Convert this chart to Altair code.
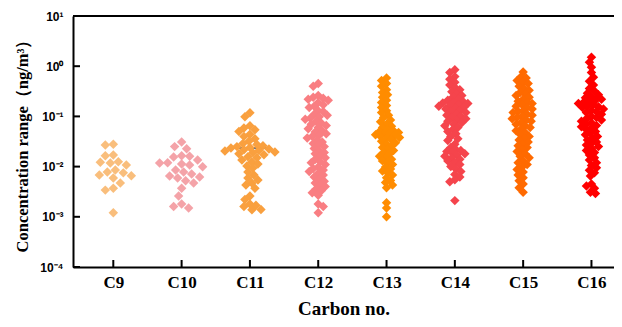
import numpy as np
import pandas as pd
import altair as alt

# ---------------- data ----------------
groups = ["C9", "C10", "C11", "C12", "C13", "C14", "C15", "C16"]
carbons = [9, 10, 11, 12, 13, 14, 15, 16]
colors = ["#F9BE7C", "#F4A3A8", "#F9A03F", "#F97E82",
          "#FF8C00", "#F5444C", "#FF6A00", "#FF0000"]

c9 = [0.027, 0.028, 0.017, 0.0165, 0.0118, 0.0122, 0.0125, 0.0108, 0.0086,
      0.0078, 0.0075, 0.0068, 0.0066, 0.0059, 0.0047, 0.0037, 0.0034, 0.0012]
c10 = [0.031, 0.025, 0.0226, 0.0164, 0.0156, 0.016, 0.0136, 0.0119, 0.0118,
       0.0113, 0.0108, 0.0099, 0.0086, 0.0078, 0.0071, 0.0065, 0.0062, 0.0059,
       0.0052, 0.0047, 0.0037, 0.0026, 0.0018, 0.0016, 0.0015]
c11 = [0.118, 0.098, 0.065, 0.059, 0.054, 0.050, 0.044, 0.040, 0.036, 0.032,
       0.029, 0.0275, 0.026, 0.025, 0.024, 0.0235, 0.0225, 0.0216, 0.021,
       0.0205, 0.0196, 0.0188, 0.018, 0.0172, 0.0157, 0.015, 0.0136, 0.0124,
       0.0113, 0.0103, 0.0094, 0.0078, 0.0068, 0.0059, 0.0054, 0.0047, 0.0043,
       0.0037, 0.0026, 0.0022, 0.0018, 0.0017, 0.0016, 0.0014, 0.00138]
c12 = [0.45, 0.40, 0.26, 0.24, 0.22, 0.21, 0.23, 0.19, 0.17, 0.16, 0.15, 0.13,
       0.125, 0.11, 0.105, 0.098, 0.092, 0.088, 0.08, 0.074, 0.07, 0.066, 0.06,
       0.057, 0.052, 0.049, 0.045, 0.042, 0.04, 0.037, 0.034, 0.031, 0.029,
       0.027, 0.025, 0.023, 0.021, 0.019, 0.018, 0.016, 0.015, 0.014, 0.0125,
       0.012, 0.011, 0.0098, 0.0092, 0.0086, 0.008, 0.0074, 0.0068, 0.0062,
       0.0056, 0.0051, 0.0047, 0.0043, 0.004, 0.0036, 0.0033, 0.003, 0.0027,
       0.0018, 0.0016, 0.0012]
c13 = [0.58, 0.52, 0.45, 0.40, 0.34, 0.30, 0.27, 0.24, 0.21, 0.19, 0.165, 0.15,
       0.13, 0.12, 0.105, 0.095, 0.085, 0.078, 0.07, 0.064, 0.06, 0.055, 0.052,
       0.05, 0.048, 0.046, 0.045, 0.043, 0.041, 0.04, 0.038, 0.036, 0.034,
       0.032, 0.03, 0.028, 0.026, 0.024, 0.022, 0.021, 0.019, 0.018, 0.016,
       0.015, 0.014, 0.013, 0.012, 0.011, 0.0098, 0.009, 0.0082, 0.0075,
       0.0068, 0.006, 0.0053, 0.0048, 0.0043, 0.0038, 0.0019, 0.0015, 0.001]
c14 = [0.85, 0.75, 0.62, 0.55, 0.48, 0.42, 0.38, 0.34, 0.31, 0.28, 0.26, 0.24,
       0.22, 0.21, 0.2, 0.19, 0.185, 0.18, 0.17, 0.165, 0.16, 0.15, 0.145,
       0.14, 0.13, 0.125, 0.12, 0.11, 0.105, 0.1, 0.095, 0.09, 0.085, 0.08,
       0.075, 0.07, 0.065, 0.06, 0.055, 0.05, 0.045, 0.04, 0.036, 0.033,
       0.028, 0.024, 0.022, 0.021, 0.02, 0.019, 0.018, 0.017, 0.016, 0.015,
       0.014, 0.013, 0.012, 0.011, 0.01, 0.009, 0.008, 0.007, 0.0062, 0.0055,
       0.005, 0.0021]
c15 = [0.77, 0.62, 0.58, 0.52, 0.48, 0.45, 0.4, 0.36, 0.33, 0.3, 0.28, 0.26,
       0.24, 0.22, 0.2, 0.19, 0.18, 0.17, 0.16, 0.15, 0.14, 0.13, 0.125, 0.12,
       0.11, 0.105, 0.1, 0.095, 0.09, 0.085, 0.08, 0.075, 0.07, 0.065, 0.06,
       0.056, 0.052, 0.048, 0.044, 0.04, 0.037, 0.034, 0.031, 0.028, 0.026,
       0.024, 0.022, 0.02, 0.018, 0.016, 0.015, 0.013, 0.012, 0.011, 0.0098,
       0.0088, 0.0078, 0.0068, 0.006, 0.0052, 0.0045, 0.0038, 0.0031]
c16 = [1.5, 1.2, 0.95, 0.75, 0.6, 0.5, 0.42, 0.36, 0.32, 0.29, 0.27, 0.25,
       0.235, 0.22, 0.21, 0.2, 0.19, 0.18, 0.17, 0.16, 0.155, 0.15, 0.14, 0.13,
       0.125, 0.12, 0.11, 0.1, 0.095, 0.09, 0.085, 0.08, 0.075, 0.07, 0.066,
       0.062, 0.058, 0.054, 0.05, 0.046, 0.043, 0.04, 0.037, 0.034, 0.031,
       0.029, 0.027, 0.025, 0.023, 0.021, 0.019, 0.017, 0.015, 0.0135, 0.012,
       0.0105, 0.0095, 0.0085, 0.0075, 0.0065, 0.0045, 0.0041, 0.0037, 0.0031,
       0.0029]
series = [c9, c10, c11, c12, c13, c14, c15, c16]

mean_group = ["C11"]
mean_carbon = [11]
mean_value = [0.0235]

y_ticks = [1e-4, 1e-3, 1e-2, 1e-1, 1e0, 1e1]
y_tick_labels = ["10⁻⁴", "10⁻³", "10⁻²", "10⁻¹", "10⁰", "10¹"]

# ---------------- layout ----------------
W, H = 541, 251
X0, X1 = 8.41, 16.33
px_per_unit = W / (X1 - X0)
px_per_decade = H / 5.0
# minimum spacing (px) between point centres in each column's swarm
swarm_spacing = [8.0, 8.0, 6.0, 5.0, 4.8, 5.0, 5.0, 5.0]


def swarm_offsets(vals, dmin=6.0, step=1.0):
    """Simple beeswarm layout (pixel space) for one column."""
    ys = -np.log10(np.asarray(vals, dtype=float)) * px_per_decade
    order = np.argsort(ys, kind="stable")
    placed = []
    offs = np.zeros(len(vals))
    for n, i in enumerate(order):
        y = ys[i]
        k = 0
        found = None
        while found is None:
            if k == 0:
                cands = [0.0]
            else:
                cands = [k * step, -k * step] if n % 2 == 0 else [-k * step, k * step]
            for c in cands:
                if all((c - px) ** 2 + (y - py) ** 2 >= dmin ** 2 for px, py in placed):
                    found = c
                    break
            k += 1
        offs[i] = found
        placed.append((found, y))
    return offs


rows = []
for g, c, vals, d in zip(groups, carbons, series, swarm_spacing):
    offs = swarm_offsets(vals, dmin=d)
    for v, o in zip(vals, offs):
        rows.append({"group": g, "xpos": c + o / px_per_unit, "value": v})
points_df = pd.DataFrame(rows)

mean_df = pd.DataFrame({"group": mean_group, "xpos": mean_carbon, "value": mean_value})
ytick_df = pd.DataFrame({"value": y_ticks})
xtick_df = pd.DataFrame({"xpos": carbons})

label_expr = " : ".join(
    f"datum.value < {t * 1.5} ? '{lab}'" for t, lab in zip(y_ticks[:-1], y_tick_labels[:-1])
) + f" : '{y_tick_labels[-1]}'"

serif = "Liberation Serif"
sans = "Liberation Sans"

x_enc = alt.X(
    "xpos:Q",
    scale=alt.Scale(domain=[X0, X1], nice=False, zero=False),
    axis=alt.Axis(
        values=carbons, labelExpr="'C' + datum.value", tickSize=0,
        grid=False, domainColor="black", domainWidth=2,
        labelFont=serif, labelFontWeight="bold", labelFontSize=17,
        labelColor="black", labelPadding=7,
        title="Carbon no.", titleFont=serif, titleFontWeight="bold",
        titleFontSize=19, titleColor="black", titlePadding=9,
    ),
)
y_enc = alt.Y(
    "value:Q",
    scale=alt.Scale(type="log", domain=[1e-4, 10], nice=False),
    axis=alt.Axis(
        values=y_ticks, labelExpr=label_expr, tickSize=0, grid=False,
        domainColor="black", domainWidth=2,
        labelFont=sans, labelFontWeight="bold", labelFontSize=12,
        labelColor="black", labelPadding=10,
        title="Concentration range（ng/m³）", titleFont=serif,
        titleFontWeight="bold", titleFontSize=16.5, titleColor="black",
        titlePadding=9,
    ),
)

mean_layer = alt.Chart(mean_df).mark_tick(
    orient="horizontal", size=38, thickness=1.5, color="black"
).encode(x=x_enc, y=y_enc)

point_layer = alt.Chart(points_df).mark_point(
    shape="diamond", filled=True, size=90, opacity=1
).encode(
    x=x_enc, y=y_enc,
    color=alt.Color("group:N", scale=alt.Scale(domain=groups, range=colors), legend=None),
)

ytick_layer = alt.Chart(ytick_df).mark_rule(color="black", strokeWidth=2).encode(
    y=y_enc, x=alt.value(0), x2=alt.value(7)
)
xtick_layer = alt.Chart(xtick_df).mark_rule(color="black", strokeWidth=2).encode(
    x=x_enc, y=alt.value(H), y2=alt.value(H - 7)
)
top_layer = alt.Chart(ytick_df.head(1)).mark_rule(color="black", strokeWidth=2).encode(
    x=alt.value(0), x2=alt.value(W), y=alt.value(0)
)

chart = alt.layer(mean_layer, point_layer, ytick_layer, xtick_layer, top_layer).properties(
    width=W, height=H,
    autosize=alt.AutoSizeParams(type="none"),
    padding={"left": 65, "top": 8, "right": 0, "bottom": 50},
).configure_view(stroke=None)

chart.save("out.html", embed_options={"renderer": "svg", "actions": False})
